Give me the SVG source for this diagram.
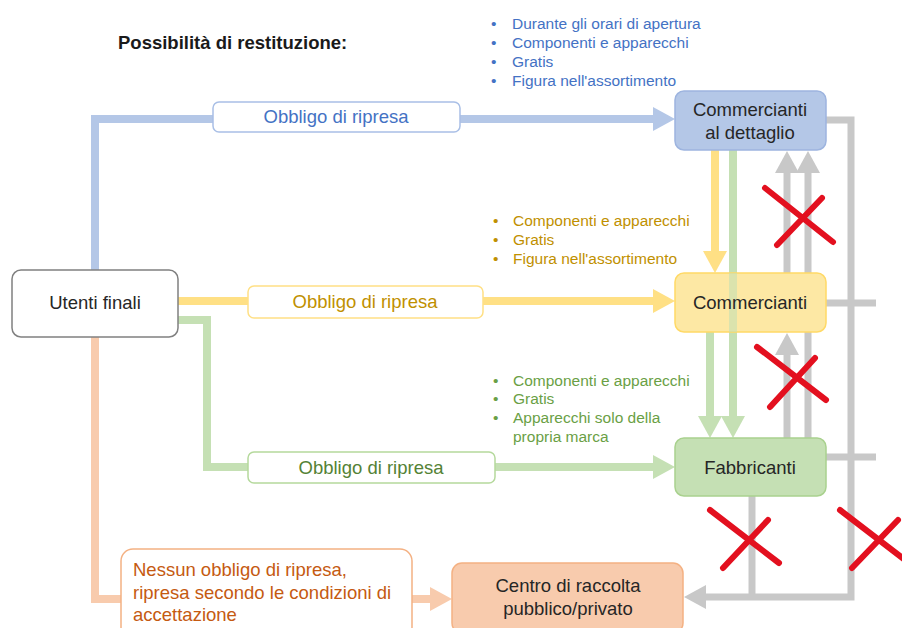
<svg xmlns="http://www.w3.org/2000/svg" width="902" height="628" viewBox="0 0 902 628">
<defs>
<style>
text{font-family:"Liberation Sans",Arial,sans-serif;}
.node{font-size:18.5px;fill:#262626;text-anchor:middle;}
.lbl{font-size:18.5px;text-anchor:middle;}
.bul{font-size:15.5px;}
.c{fill:none;stroke-width:8;}
.gray{fill:none;stroke:#c8c8c8;stroke-width:7;}
.x{stroke:#e3101f;stroke-width:6;stroke-linecap:round;}
</style>
<marker id="mb" markerUnits="userSpaceOnUse" markerWidth="22" markerHeight="24" refX="1" refY="12" orient="auto"><path d="M0,0 L22,12 L0,24 z" fill="#b4c7e7"/></marker>
<marker id="my" markerUnits="userSpaceOnUse" markerWidth="22" markerHeight="24" refX="1" refY="12" orient="auto"><path d="M0,0 L22,12 L0,24 z" fill="#ffe085"/></marker>
<marker id="mg" markerUnits="userSpaceOnUse" markerWidth="22" markerHeight="24" refX="1" refY="12" orient="auto"><path d="M0,0 L22,12 L0,24 z" fill="#c5e0b4"/></marker>
<marker id="mo" markerUnits="userSpaceOnUse" markerWidth="22" markerHeight="24" refX="1" refY="12" orient="auto"><path d="M0,0 L22,12 L0,24 z" fill="#f8cbad"/></marker>
<marker id="mgr" markerUnits="userSpaceOnUse" markerWidth="22" markerHeight="24" refX="1" refY="12" orient="auto"><path d="M0,0 L22,12 L0,24 z" fill="#c8c8c8"/></marker>
</defs>
<rect width="902" height="628" fill="#ffffff"/>

<text x="118" y="49" font-size="18.5" font-weight="bold" fill="#1a1a1a">Possibilità di restituzione:</text>

<g id="connectors">
<path class="gray" d="M826,120 H851 V597 H705" marker-end="url(#mgr)"/>
<path class="gray" d="M826,303 H876"/>
<path class="gray" d="M826,457 H876"/>
<path class="gray" d="M752,496 V597"/>
<path class="gray" d="M787,273 V172" marker-end="url(#mgr)"/>
<path class="gray" d="M787,438 V354" marker-end="url(#mgr)"/>
<path class="gray" d="M808,438 V172" marker-end="url(#mgr)"/>
<path class="c" stroke="#b4c7e7" d="M95,270 V119 H213"/>
<path class="c" stroke="#b4c7e7" d="M460,119 H654" marker-end="url(#mb)"/>
<path class="c" stroke="#ffe085" d="M178,301 H248"/>
<path class="c" stroke="#ffe085" d="M483,301 H654" marker-end="url(#my)"/>
<path class="c" stroke="#ffe085" d="M715,150 V252" marker-end="url(#my)"/>
<path class="c" stroke="#c5e0b4" d="M178,320 H207 V467 H248"/>
<path class="c" stroke="#c5e0b4" d="M495,467 H654" marker-end="url(#mg)"/>
<path class="c" stroke="#c5e0b4" d="M710,332 V417" marker-end="url(#mg)"/>
<path class="c" stroke="#c5e0b4" d="M733,150 V417" marker-end="url(#mg)"/>
<path class="c" stroke="#f8cbad" d="M95,337 V599 H121"/>
<path class="c" stroke="#f8cbad" d="M412,599 H431" marker-end="url(#mo)"/>
</g>

<g id="utenti-finali">
<rect x="12" y="270" width="166" height="67" rx="9" fill="#ffffff" stroke="#808080" stroke-width="1.5"/>
<text class="node" x="95" y="309">Utenti finali</text>
</g>

<g id="commercianti-dettaglio">
<rect x="675" y="91" width="151" height="59" rx="9" fill="#b4c7e7" stroke="#9db4df" stroke-width="1.5"/>
<text class="node" x="750" y="116">Commercianti</text>
<text class="node" x="750" y="139">al dettaglio</text>
</g>

<g id="commercianti">
<rect x="675" y="273" width="151" height="59" rx="9" fill="#fde8a4" stroke="#ffd966" stroke-width="1.5"/>
<path d="M733,273 V332" stroke="#c5e0b4" stroke-width="8" stroke-opacity="0.6"/>
<text class="node" x="750" y="309">Commercianti</text>
</g>

<g id="fabbricanti">
<rect x="675" y="438" width="151" height="58" rx="9" fill="#c5e0b4" stroke="#a9d18e" stroke-width="1.5"/>
<text class="node" x="750" y="474">Fabbricanti</text>
</g>

<g id="centro-raccolta">
<rect x="452" y="563" width="231" height="70" rx="10" fill="#f8cbad" stroke="#f4b183" stroke-width="1.5"/>
<text class="node" x="568" y="592">Centro di raccolta</text>
<text class="node" x="568" y="615">pubblico/privato</text>
</g>

<g id="label-blu">
<rect x="213" y="102" width="247" height="30" rx="6" fill="#ffffff" stroke="#a9bfe6" stroke-width="1.5"/>
<text class="lbl" x="336" y="123" fill="#4472c4">Obbligo di ripresa</text>
</g>

<g id="label-giallo">
<rect x="248" y="286" width="235" height="32" rx="6" fill="#ffffff" stroke="#ffe085" stroke-width="1.5"/>
<text class="lbl" x="365" y="308" fill="#bf9000">Obbligo di ripresa</text>
</g>

<g id="label-verde">
<rect x="248" y="452" width="247" height="31" rx="6" fill="#ffffff" stroke="#b5d99c" stroke-width="1.5"/>
<text class="lbl" x="371" y="474" fill="#548235">Obbligo di ripresa</text>
</g>

<g id="label-arancio">
<rect x="121" y="549" width="291" height="90" rx="12" fill="#ffffff" stroke="#f4b183" stroke-width="1.5"/>
<text x="133" y="576" font-size="18.5" fill="#c55a11">Nessun obbligo di ripresa,</text>
<text x="133" y="599" font-size="18.5" fill="#c55a11">ripresa secondo le condizioni di</text>
<text x="133" y="621" font-size="18.5" fill="#c55a11">accettazione</text>
</g>

<g id="note-blu" class="bul" fill="#4472c4">
<text x="491" y="29">•</text><text x="512" y="29">Durante gli orari di apertura</text>
<text x="491" y="48">•</text><text x="512" y="48">Componenti e apparecchi</text>
<text x="491" y="67">•</text><text x="512" y="67">Gratis</text>
<text x="491" y="86">•</text><text x="512" y="86">Figura nell'assortimento</text>
</g>

<g id="note-giallo" class="bul" fill="#bf9000">
<text x="493" y="226">•</text><text x="513" y="226">Componenti e apparecchi</text>
<text x="493" y="245">•</text><text x="513" y="245">Gratis</text>
<text x="493" y="264">•</text><text x="513" y="264">Figura nell'assortimento</text>
</g>

<g id="note-verde" class="bul" fill="#6a9f45">
<text x="493" y="386">•</text><text x="513" y="386">Componenti e apparecchi</text>
<text x="493" y="404">•</text><text x="513" y="404">Gratis</text>
<text x="493" y="423">•</text><text x="513" y="423">Apparecchi solo della</text>
<text x="513" y="442">propria marca</text>
</g>

<g id="croci">
<path class="x" d="M765,188 L833,242 M777,245 L822,198"/>
<path class="x" d="M757,347 L826,400 M770,407 L815,358"/>
<path class="x" d="M710,510 L779,563 M723,568 L768,520"/>
<path class="x" d="M840,510 L909,563 M852,568 L898,520"/>
</g>
</svg>
